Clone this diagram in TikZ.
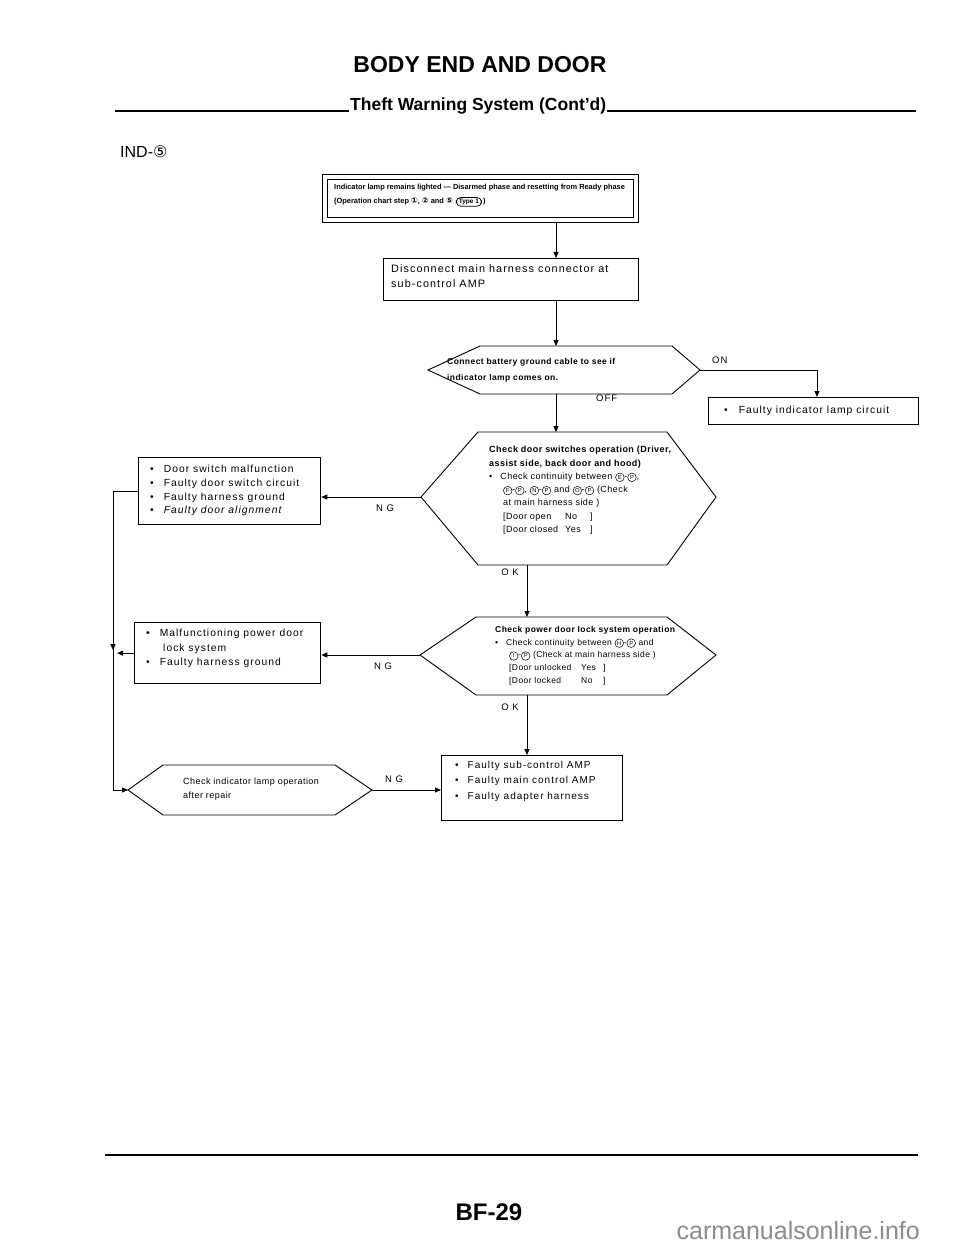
\documentclass[tikz,border=0pt]{standalone}
\usepackage{fontspec}
\setmainfont{Liberation Sans}
\newfontfamily\bodyf[LetterSpace=10]{Liberation Sans}
\newfontfamily\hexf[LetterSpace=5]{Liberation Sans}
\newfontfamily\tightf{Liberation Sans}
\newfontfamily\symf{DejaVu Sans}
\usetikzlibrary{arrows.meta}
\newcommand{\cl}[1]{{\symf\fontsize{8}{8}\selectfont #1}}
\newcommand{\cL}[1]{\tikz[baseline=(cx.base)]\node[draw, circle, line width=0.5pt, inner sep=0pt, minimum size=8.6pt, font=\tightf\fontsize{5.8}{5.8}\selectfont] (cx) {#1};}
\begin{document}
\begin{tikzpicture}[x=1pt,y=-1pt,
  boxs/.style={draw, line width=1.3pt, inner sep=0pt},
  hexl/.style={draw, line width=0.9pt},
  conn/.style={line width=0.9pt},
  arr/.style={conn, -{Triangle[length=6pt,width=5pt]}},
  btxt/.style={font=\tightf\bfseries\fontsize{7.4}{15}\selectfont, anchor=north west, inner sep=0pt, align=left},
  htxt/.style={font=\hexf\fontsize{9}{13.3}\selectfont, anchor=north west, inner sep=0pt, align=left},
  rtxt/.style={font=\bodyf\fontsize{10.3}{13.7}\selectfont, anchor=north west, inner sep=0pt, align=left},
  lab/.style={font=\bodyf\fontsize{9.5}{9.5}\selectfont, inner sep=0pt}
]
\useasboundingbox (0,0) rectangle (960,1249);
\fill[white] (0,0) rectangle (960,1249);

% header
\node[font=\bfseries\fontsize{23}{23}\selectfont] (title) at (480,65) {BODY END AND DOOR};
\node[font=\bfseries\fontsize{17.5}{17.5}\selectfont, anchor=base west, inner sep=1pt] (sub) at (349,111) {Theft Warning System (Cont'd)};
\coordinate (rl) at (115,111);
\coordinate (rr) at (916,111);
\draw[line width=1.4pt] (rl) -- (sub.base west);
\draw[line width=1.4pt] (sub.base east) -- (rr);
\node[font=\fontsize{16}{16}\selectfont, anchor=west, inner sep=0pt] (ind) at (120,152) {IND-{\symf\fontsize{16}{16}\selectfont ⑤}};

% columns
\coordinate (colA) at (556,0);
\coordinate (colB) at (527,0);
\coordinate (colL) at (113,0);
\coordinate (colR) at (817,0);

% top box
\node[boxs, minimum width=316pt, minimum height=48pt, anchor=north west] (tbox) at (322,174) {};
\draw[line width=0.8pt] (327,179) rectangle (633,217);
\node[btxt] (t1) at (334,184) {Indicator lamp remains lighted — Disarmed phase and resetting from Ready phase};
\node[btxt] (t2) at (334,198) {(Operation chart step \cl{①}, \cl{②} and \cl{⑤}};
\node[draw, line width=0.7pt, rounded corners=4.5pt, inner xsep=2.5pt, inner ysep=1.5pt, font=\tightf\bfseries\fontsize{6.5}{6.5}\selectfont, anchor=west] (pill) at ([xshift=3pt]t2.east) {Type 1};
\node[btxt, anchor=west] (t3) at ([xshift=1pt]pill.east) {)};

% disconnect box
\node[boxs, line width=1.1pt, minimum width=255pt, minimum height=42pt, anchor=north west] (dbox) at (383,258) {};
\node[rtxt, font=\bodyf\fontsize{10.8}{15}\selectfont] (dtx) at (391,264) {Disconnect main harness connector at\\sub-control AMP};
\draw[arr] (tbox.south -| colA) -- (dbox.north -| colA);

% connect hex
\coordinate (h1W) at (428,370);
\coordinate (h1E) at (700,370);
\coordinate (h1N) at (556,346);
\coordinate (h1S) at (556,394);
\draw[hexl] (h1W) -- (480,346) -- (672,346) -- (h1E) -- (672,394) -- (480,394) -- cycle;
\node[htxt, font=\hexf\bfseries\fontsize{8.5}{16}\selectfont] (h1t) at (447,358) {Connect battery ground cable to see if\\indicator lamp comes on.};
\draw[arr] (dbox.south -| colA) -- (h1N);

% faulty indicator box
\node[boxs, minimum width=210pt, minimum height=27pt, anchor=north west] (fib) at (708,397) {};
\node[rtxt, anchor=west] (fit) at (724,411) {\textbullet\hspace{11pt}Faulty indicator lamp circuit};
\node[lab, anchor=west] (on) at (712,360) {ON};
\draw[arr] (h1E) -- (h1E -| colR) -- (fib.north -| colR);

% door switch hex
\coordinate (h2W) at (421,497);
\coordinate (h2E) at (716,497);
\coordinate (h2N) at (556,432);
\coordinate (h2S) at (527,565);
\draw[hexl] (h2W) -- (478,432) -- (667,432) -- (h2E) -- (667,565) -- (478,565) -- cycle;
\node[lab, anchor=west] (off) at (596,398) {OFF};
\draw[arr] (h1S) -- (h2N);
\node[htxt] (h2t) at (489,446) {{\bfseries Check door switches operation (Driver,}\\
{\bfseries assist side, back door and hood)}\\
\textbullet\hspace{8pt}Check continuity between \cL{E}-\cL{P},\\
\hspace{14pt}\cL{F}-\cL{P}, \cL{N}-\cL{P} and \cL{O}-\cL{P} (Check\\
\hspace{14pt}at main harness side )\\
\hspace{14pt}\makebox[62pt][l]{[Door open}\makebox[25pt][l]{No}]\\
\hspace{14pt}\makebox[62pt][l]{[Door closed}\makebox[25pt][l]{Yes}]};

% door switch result box
\node[boxs, minimum width=182pt, minimum height=67pt, anchor=north west] (dsb) at (138,457) {};
\node[rtxt] (dst) at (150,465) {\textbullet\hspace{10pt}Door switch malfunction\\
\textbullet\hspace{10pt}Faulty door switch circuit\\
\textbullet\hspace{10pt}Faulty harness ground\\
\textbullet\hspace{10pt}\textit{Faulty door alignment}};
\draw[arr] (h2W) -- (h2W -| dsb.east);
\node[lab] (ng1) at (385,508) {N G};

% power door lock hex
\coordinate (h3W) at (420,655);
\coordinate (h3E) at (716,655);
\coordinate (h3N) at (527,617);
\coordinate (h3S) at (527,695);
\draw[hexl] (h3W) -- (476,617) -- (667,617) -- (h3E) -- (667,695) -- (476,695) -- cycle;
\node[lab] (ok1) at (510,572) {O K};
\draw[arr] (h2S) -- (h3N);
\node[htxt, font=\hexf\fontsize{8.5}{12.8}\selectfont] (h3t) at (495,626) {{\bfseries Check power door lock system operation}\\
\textbullet\hspace{8pt}Check continuity between \cL{H}-\cL{P} and\\
\hspace{14pt}\cL{I}-\cL{P} (Check at main harness side )\\
\hspace{14pt}\makebox[72pt][l]{[Door unlocked}\makebox[22pt][l]{Yes}]\\
\hspace{14pt}\makebox[72pt][l]{[Door locked}\makebox[22pt][l]{No}]};

% power lock result box
\node[boxs, minimum width=186pt, minimum height=61pt, anchor=north west] (plb) at (134,622) {};
\node[rtxt, font=\bodyf\fontsize{10.3}{14.5}\selectfont] (plt) at (146,629) {\textbullet\hspace{10pt}Malfunctioning power door\\
\hspace{17pt}lock system\\
\textbullet\hspace{10pt}Faulty harness ground};
\draw[arr] (h3W) -- (h3W -| plb.east);
\node[lab] (ng2) at (383,666) {N G};

% bottom hex
\coordinate (h4W) at (128,790);
\coordinate (h4E) at (372,790);
\draw[hexl] (h4W) -- (163,765) -- (335,765) -- (h4E) -- (335,815) -- (163,815) -- cycle;
\node[htxt, font=\hexf\fontsize{9}{14}\selectfont] (h4t) at (183,778) {Check indicator lamp operation\\after repair};

% final box
\node[boxs, minimum width=181pt, minimum height=65pt, anchor=north west] (fb) at (441,755) {};
\node[rtxt, font=\bodyf\fontsize{10}{15.5}\selectfont] (fbt) at (455,761) {\textbullet\hspace{9pt}Faulty sub-control AMP\\
\textbullet\hspace{9pt}Faulty main control AMP\\
\textbullet\hspace{9pt}Faulty adapter harness};
\node[lab] (ok2) at (510,707) {O K};
\draw[arr] (h3S) -- (fb.north -| colB);
\draw[arr] (h4E) -- (h4E -| fb.west);
\node[lab] (ng3) at (394,779) {N G};

% left return line
\coordinate (lt) at (colL |- dsb.west);
\coordinate (lb) at (colL |- h4W);
\coordinate (lm) at (colL |- plb.west);
\draw[conn] (dsb.west) -- (lt) -- (lb);
\draw[arr] (lb) -- (h4W);
\draw[arr] (lt) -- ([yshift=3pt]lm);
\draw[arr] (plb.west) -- ([xshift=4pt]lm);

% footer
\coordinate (fl) at (105,1155);
\coordinate (fr) at (918,1155);
\draw[line width=2.4pt] (fl) -- (fr);
\node[font=\bfseries\fontsize{24}{24}\selectfont] (pg) at (489,1212) {BF-29};
\node[font=\fontsize{25}{25}\selectfont, text=black!45, anchor=east, inner sep=0pt] (wm) at (920,1231) {carmanualsonline.info};
\end{tikzpicture}
\end{document}
